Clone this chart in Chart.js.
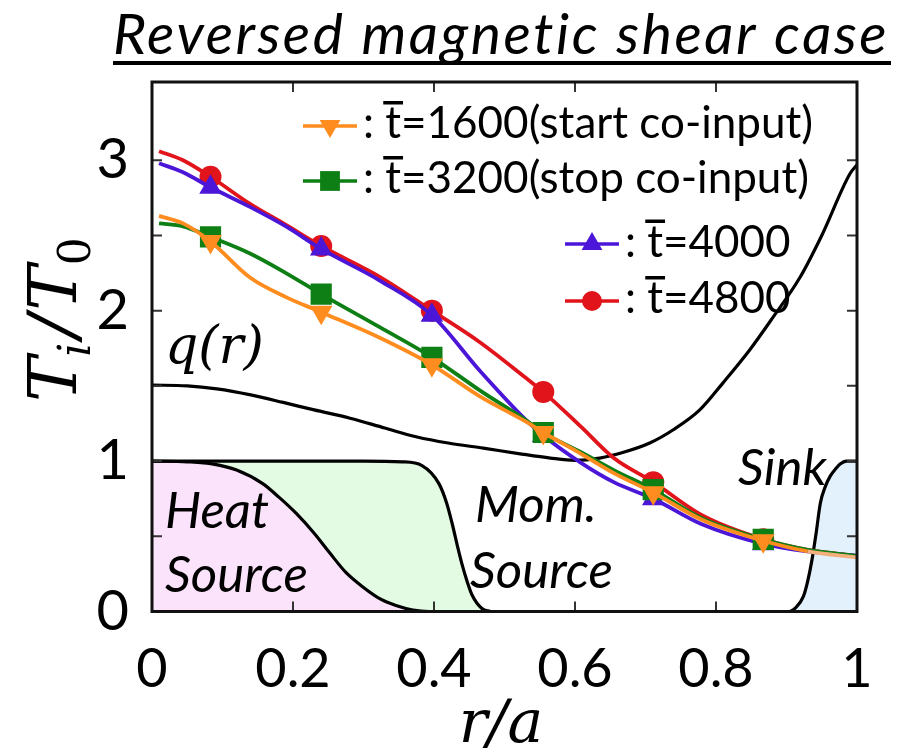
<!DOCTYPE html>
<html>
<head>
<meta charset="utf-8">
<script src="https://cdn.jsdelivr.net/npm/chart.js@4.4.1/dist/chart.umd.min.js"></script>
<style>
html,body{margin:0;padding:0;background:#fff;}
#wrap{position:relative;width:908px;height:755px;}
</style>
</head>
<body>
<div id="wrap"><canvas id="c" width="908" height="755"></canvas></div>
<script>
// radial positions shared by the four Ti profiles
const rx=[0.01,0.044,0.083,0.139,0.19,0.24,0.323,0.397,0.465,0.531,0.555,0.608,0.655,0.711,0.78,0.867,0.93,1.0];
const t1600=[2.63,2.58,2.46,2.22,2.09,1.99,1.82,1.64,1.43,1.26,1.19,1.05,0.92,0.79,0.61,0.47,0.40,0.36];
const t3200=[2.58,2.56,2.49,2.38,2.25,2.11,1.89,1.69,1.47,1.27,1.19,1.06,0.94,0.81,0.62,0.48,0.41,0.37];
const t4000=[2.98,2.92,2.82,2.69,2.56,2.41,2.20,1.97,1.60,1.27,1.17,0.99,0.86,0.75,0.58,0.45,0.40,0.37];
const t4800=[3.06,3.00,2.89,2.71,2.57,2.43,2.225,2.00,1.79,1.55,1.46,1.23,1.02,0.86,0.64,0.48,0.41,0.37];
const markIdx=[2,5,7,10,13,15];

// safety factor q(r)
const qx=[0,0.05,0.092,0.14,0.186,0.23,0.281,0.33,0.376,0.42,0.47,0.52,0.565,0.6,0.635,0.67,0.706,0.74,0.777,0.81,0.848,0.88,0.919,0.95,0.99,1.0];
const qv=[1.505,1.50,1.48,1.44,1.39,1.34,1.285,1.22,1.16,1.12,1.086,1.05,1.02,1.005,1.02,1.06,1.12,1.21,1.34,1.52,1.74,1.95,2.22,2.5,2.91,2.97];

// source / sink profiles
const hx=[0,0.05,0.087,0.12,0.157,0.18,0.205,0.23,0.252,0.275,0.30,0.325,0.346,0.37,0.393,1.0];
const hv=[1.0,0.995,0.98,0.94,0.85,0.76,0.65,0.52,0.39,0.26,0.16,0.08,0.04,0.01,0,0];
const mx=[0,0.1,0.2,0.3,0.355,0.383,0.407,0.418,0.426,0.433,0.44,0.447,0.454,0.468,0.48];
const mv=[1,1,1,1,0.995,0.97,0.85,0.72,0.58,0.44,0.31,0.2,0.11,0.02,0];
const sx=[0.905,0.912,0.924,0.93,0.936,0.942,0.948,0.955,0.962,0.97,0.976,0.985,1.0];
const sv=[0,0.02,0.1,0.2,0.34,0.52,0.72,0.83,0.9,0.95,0.98,1.0,1.0];

const xTicks=[0,0.2,0.4,0.6,0.8,1];
const legendText=["=1600(start co-input)","=3200(stop co-input)","=4000","=4800"];

const SANS="Lato, 'Open Sans', sans-serif";
const MATH="'DejaVu Serif', serif";

const pts=(xs,ys)=>xs.map((x,i)=>({x,y:ys[i]}));
const mk=r=>c=>markIdx.includes(c.dataIndex)?r:0;

function prof(label,ys,color,style,r,rot){
  return {label,data:pts(rx,ys),borderColor:color,backgroundColor:color,borderWidth:3.8,
    pointStyle:style,pointRotation:rot||0,pointRadius:mk(r),pointHoverRadius:mk(r),pointBorderWidth:0,
    cubicInterpolationMode:"monotone",fill:false};
}
function curve(xs,ys,fillColor){
  return {data:pts(xs,ys),borderColor:"#000",borderWidth:3.2,pointRadius:0,cubicInterpolationMode:"monotone",
    fill:fillColor?"origin":false,backgroundColor:fillColor||"transparent"};
}

const dsOrange=prof("1600",t1600,"#FF8C1E","triangle",13,180);
dsOrange.segment={borderColor:c=>c.p0DataIndex>=16?"#F3B07C":undefined};
const datasets=[
  dsOrange,
  prof("3200",t3200,"#0E7F14","rect",15),
  prof("4000",t4000,"#4B16D8","triangle",13),
  prof("4800",t4800,"#E0141A","circle",11),
  curve(qx,qv),
  curve(hx,hv,"#FCE3FC"),
  curve(mx,mv,"#E2FBE2"),
  curve(sx,sv,"#E2F1FC")
];

function marker(ctx,style,rot,r,x,y){
  if(Chart.helpers&&Chart.helpers.drawPoint){
    Chart.helpers.drawPoint(ctx,{pointStyle:style,rotation:rot||0,radius:r,borderWidth:0},x,y);
    return;
  }
  ctx.beginPath();ctx.arc(x,y,r,0,Math.PI*2);ctx.fill();
}

const deco={
  id:"deco",
  afterDraw(chart){
    const ctx=chart.ctx,a=chart.chartArea,xs=chart.scales.x,ys=chart.scales.y;
    ctx.save();
    // inward ticks
    ctx.strokeStyle="#333";ctx.lineWidth=2;
    xs.ticks.forEach(t=>{
      if(t.value<=0||t.value>=1)return;
      const p=xs.getPixelForValue(t.value);
      ctx.beginPath();ctx.moveTo(p,a.bottom);ctx.lineTo(p,a.bottom-10);
      ctx.moveTo(p,a.top);ctx.lineTo(p,a.top+10);ctx.stroke();
    });
    ys.ticks.forEach(t=>{
      if(t.value<=0||t.value>3.45||Math.abs(t.value*2-Math.round(t.value*2))>1e-6)return;
      const p=ys.getPixelForValue(t.value);
      ctx.beginPath();ctx.moveTo(a.left,p);ctx.lineTo(a.left+10,p);
      ctx.moveTo(a.right,p);ctx.lineTo(a.right-10,p);ctx.stroke();
    });
    // frame
    ctx.strokeStyle="#111";ctx.lineWidth=3;
    ctx.strokeRect(a.left,a.top,a.right-a.left,a.bottom-a.top);

    // title
    ctx.fillStyle="#000";
    ctx.font="italic 57px "+SANS;
    ctx.textAlign="left";ctx.textBaseline="alphabetic";
    if("letterSpacing" in ctx)ctx.letterSpacing="2.6px";
    ctx.fillText("Reversed magnetic shear case",113,54);
    if("letterSpacing" in ctx)ctx.letterSpacing="0px";
    ctx.fillRect(113,61,778,4);

    // axis titles
    ctx.textAlign="center";
    ctx.font="italic 60px "+MATH;
    ctx.fillText("r/a",501,742);
    ctx.save();
    ctx.translate(76,402);ctx.rotate(-Math.PI/2);
    ctx.textAlign="left";
    let cx=0;
    const piece=(s,size,dy,it,gap)=>{ctx.font=(it?"italic ":"")+size+"px "+MATH;ctx.fillText(s,cx,dy);cx+=ctx.measureText(s).width+(gap||0);};
    piece("T",68,0,1,0);piece("i",44,14,1,5);piece("/",68,0,1,4);piece("T",68,0,1,0);piece("0",44,14,0,0);
    ctx.restore();

    // in-plot labels
    ctx.textAlign="left";
    ctx.font="italic 52px "+MATH;
    ctx.fillText("q(r)",165,363);
    ctx.font="italic 51px "+SANS;
    ctx.fillText("Heat",165,528);
    ctx.fillText("Source",165,592);
    ctx.fillText("Mom.",475,522);
    ctx.fillText("Source",470,588);
    ctx.fillText("Sink",738,485);

    // legend
    const rows=[[0,303,126,138],[1,303,181,193],[2,565,244,256.5],[3,565,301,313]];
    rows.forEach(([i,x0,ly,by])=>{
      const d=chart.data.datasets[i];
      ctx.strokeStyle=d.borderColor;ctx.lineWidth=3.5;
      ctx.beginPath();ctx.moveTo(x0,ly);ctx.lineTo(x0+54,ly);ctx.stroke();
      ctx.fillStyle=d.borderColor;
      marker(ctx,d.pointStyle,d.pointRotation,d.pointStyle==="rect"?14:d.pointStyle==="circle"?10:12,x0+27,ly);
      ctx.fillStyle="#000";
      ctx.font="44px "+SANS;
      let tx=x0+60;
      ctx.fillText(": ",tx,by);tx+=ctx.measureText(": ").width;
      const tw=ctx.measureText("t").width;
      ctx.fillText("t",tx,by);
      ctx.fillRect(tx-2,by-37,tw+4,3.5);
      tx+=tw;
      ctx.fillText(legendText[i],tx,by);
    });
    ctx.restore();
  }
};

new Chart(document.getElementById("c"),{
  type:"line",
  data:{datasets},
  plugins:[deco],
  options:{
    responsive:false,
    animation:false,
    devicePixelRatio:1,
    layout:{padding:{left:0,right:51,top:82,bottom:0}},
    plugins:{legend:{display:false},tooltip:{enabled:false},filler:{drawTime:"beforeDatasetsDraw"}},
    scales:{
      x:{type:"linear",min:0,max:1,
        afterFit:s=>{s.height=143.5;},
        afterBuildTicks:s=>{s.ticks=xTicks.map(v=>({value:v}));},
        grid:{display:false},border:{display:false},
        ticks:{padding:18,color:"#000",font:{family:SANS,size:54},maxRotation:0,
          callback:v=>String(Math.round(v*10)/10)}},
      y:{type:"linear",min:0,max:3.52,
        afterFit:s=>{s.width=152;},
        grid:{display:false},border:{display:false},
        ticks:{stepSize:0.5,padding:15,color:"#000",font:{family:SANS,size:56},
          callback:v=>Number.isInteger(v)?String(v):""}}
    }
  }
});
</script>
</body>
</html>
